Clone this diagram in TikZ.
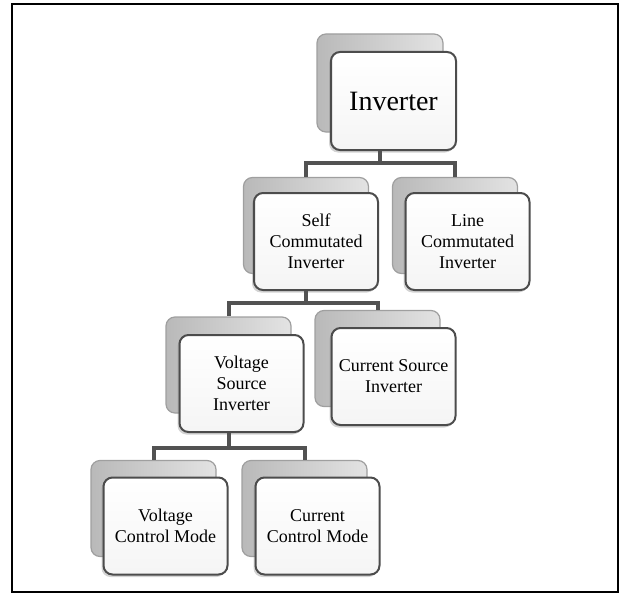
\documentclass[tikz,border=0pt]{standalone}
\usepackage{fontspec}
\setmainfont{Liberation Serif}
\usetikzlibrary{shadows}
\begin{document}
\begin{tikzpicture}[x=1pt,y=-1pt,
 backbox/.style={draw=gray!75, line width=1.2pt, rounded corners=9pt, left color=gray!55, right color=gray!22, minimum width=125pt, minimum height=96pt, inner sep=0pt},
 frontbox/.style={draw=black!70, line width=2pt, rounded corners=9pt, top color=white, bottom color=gray!8, minimum width=124pt, minimum height=97pt, inner sep=2pt, align=center, font=\fontsize{18}{21}\selectfont, drop shadow={shadow xshift=-2pt, shadow yshift=-2.5pt, opacity=0.35}},
 conn/.style={draw=black!68, line width=4pt}
]
\useasboundingbox (0,0) rectangle (623,594);
\draw[line width=2pt] (12,4) rectangle (618,592);

\node[backbox, minimum width=126pt, minimum height=98pt] (invb) at (380,83) {};
\node[frontbox, minimum width=125pt, minimum height=98pt, font=\fontsize{28}{30}\selectfont] (inv) at (393.5,101) {Inverter};

\node[backbox] (selfb) at (306,225.5) {};
\node[frontbox] (self) at (316,241.5) {Self\\Commutated\\Inverter};
\node[backbox] (lineb) at (455,225.5) {};
\node[frontbox] (line) at (467.5,241.5) {Line\\Commutated\\Inverter};

\node[backbox] (vsib) at (228.5,365) {};
\node[frontbox] (vsi) at (241.5,383.5) {Voltage\\Source\\Inverter};
\node[backbox] (csib) at (377.5,358.5) {};
\node[frontbox] (csi) at (393.5,376.5) {Current Source\\Inverter};

\node[backbox] (vcmb) at (153.5,508.5) {};
\node[frontbox] (vcm) at (165.5,526) {Voltage\\Control Mode};
\node[backbox] (ccmb) at (304.5,508.5) {};
\node[frontbox] (ccm) at (317.5,526) {Current\\Control Mode};

\coordinate (bar1) at (0,163);
\coordinate (bar2) at (0,303);
\coordinate (bar3) at (0,448);

\draw[conn] (invb.center |- inv.south) -- (invb.center |- bar1) -| (selfb.north);
\draw[conn] (invb.center |- bar1) -| (lineb.north);
\draw[conn] (selfb.center |- self.south) -- (selfb.center |- bar2) -| (vsib.north);
\draw[conn] (selfb.center |- bar2) -| (csib.north);
\draw[conn] (vsib.center |- vsi.south) -- (vsib.center |- bar3) -| (vcmb.north);
\draw[conn] (vsib.center |- bar3) -| (ccmb.north);
\end{tikzpicture}
\end{document}
